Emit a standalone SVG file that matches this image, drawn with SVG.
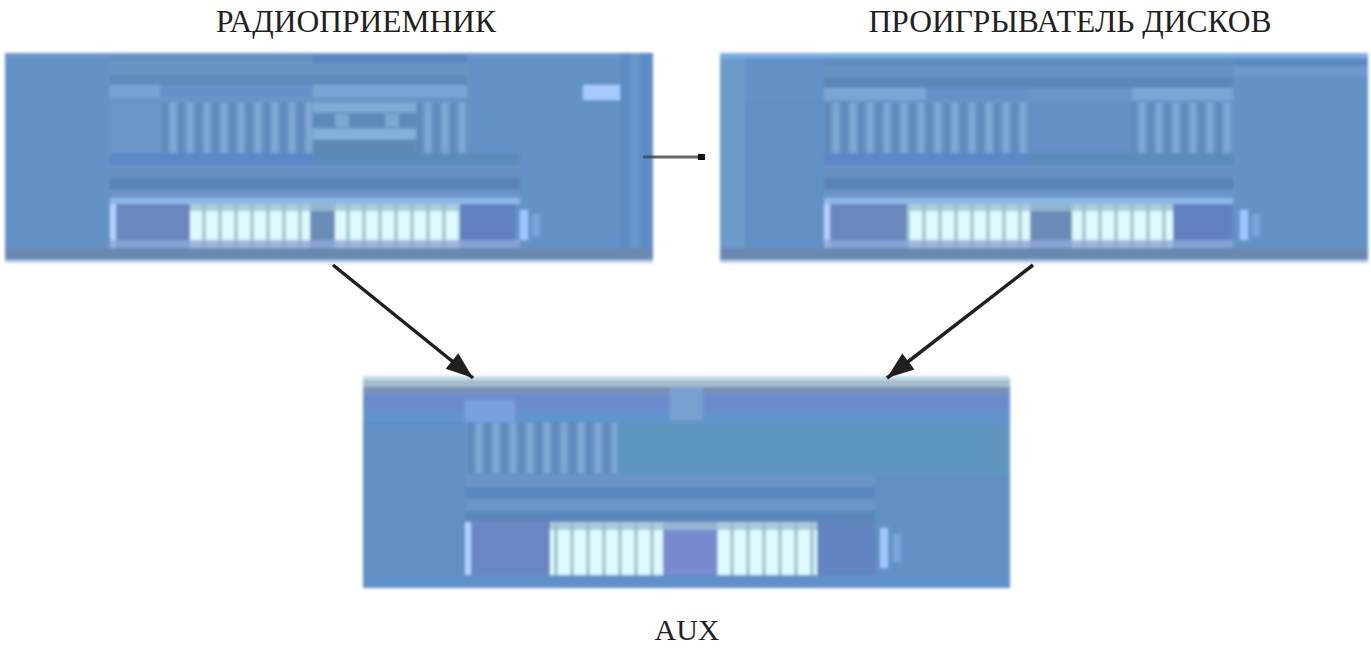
<svg xmlns="http://www.w3.org/2000/svg" width="1371" height="648" viewBox="0 0 1371 648">
<style>
.lbl{font-family:"Liberation Serif","Times New Roman",serif;font-size:31.5px;fill:#231f20;text-anchor:middle}
.conn{stroke:#231f20;stroke-width:3.5;fill:none}
</style>
<defs>
<marker id="ah" viewBox="0 0 10 10" refX="10" refY="5" markerWidth="10" markerHeight="10" markerUnits="userSpaceOnUse" orient="auto" overflow="visible">
<path d="M-17,-5 L10,5 L-17,15 Z" fill="#231f20" />
</marker>
<pattern id="txt" width="17" height="600" patternUnits="userSpaceOnUse">
<rect width="17" height="600" fill="#6a94c4"/>
<rect x="0" width="6" height="600" fill="#80a8d4"/>
<rect x="9" width="5" height="600" fill="#5e88b9"/>
</pattern>
<pattern id="wht" width="16" height="600" patternUnits="userSpaceOnUse">
<rect width="16" height="600" fill="#e0f9ff"/>
<rect x="10" width="4" height="600" fill="#a2c8cf"/>
</pattern>
<filter id="soft" x="-5%" y="-5%" width="110%" height="110%"><feGaussianBlur stdDeviation="1.8"/></filter>
</defs>

<g id="label-radio"><text class="lbl" x="356" y="32">РАДИОПРИЕМНИК</text></g>
<g id="label-disc"><text class="lbl" x="1070" y="32">ПРОИГРЫВАТЕЛЬ ДИСКОВ</text></g>
<g id="label-aux"><text class="lbl" x="687" y="640" style="font-size:30px">AUX</text></g>

<g id="screen-radio" filter="url(#soft)">
<rect x="5" y="53" width="648" height="210" fill="#6393c6"/>
<rect x="5" y="53" width="648" height="4" fill="#6c98c8"/>
<rect x="110" y="55" width="203" height="8" fill="#6690bd"/>
<rect x="313" y="55" width="154" height="8" fill="#5a84bf"/>
<rect x="110" y="63" width="357" height="12" fill="#6a95c2"/>
<rect x="110" y="75" width="357" height="10" fill="#5f8abb"/>
<rect x="110" y="85" width="50" height="12" fill="#78a4d4"/>
<rect x="160" y="85" width="153" height="12" fill="#6690c8"/>
<rect x="313" y="85" width="154" height="12" fill="#7aa6d6"/>
<rect x="110" y="97" width="357" height="6" fill="#6a94c8"/>
<rect x="110" y="103" width="50" height="50" fill="#6c96c6"/>
<rect x="160" y="103" width="153" height="50" fill="url(#txt)"/>
<rect x="313" y="103" width="103" height="50" fill="#6a94c4"/>
<rect x="313" y="103" width="103" height="9" fill="#80aad6"/>
<rect x="313" y="114" width="103" height="13" fill="#5c89b6"/>
<rect x="335" y="114" width="14" height="13" fill="#7ca8d0"/>
<rect x="385" y="114" width="14" height="13" fill="#7ca8d0"/>
<rect x="313" y="129" width="103" height="10" fill="#84b0da"/>
<rect x="313" y="141" width="103" height="12" fill="#5d88b4"/>
<rect x="416" y="103" width="51" height="50" fill="url(#txt)"/>
<rect x="110" y="153" width="203" height="12" fill="#5b88c8"/>
<rect x="313" y="153" width="207" height="12" fill="#5a8cba"/>
<rect x="110" y="165" width="410" height="13" fill="#6890c0"/>
<rect x="110" y="178" width="410" height="12" fill="#5a82b8"/>
<rect x="110" y="190" width="410" height="8" fill="#6a94c8"/>
<rect x="110" y="198" width="410" height="6" fill="#8cb8e8"/>
<rect x="110" y="204" width="80" height="44" fill="#6c86c0"/>
<rect x="110" y="204" width="6" height="44" fill="#b0d0ff"/>
<rect x="190" y="204" width="120" height="44" fill="url(#wht)"/>
<rect x="310" y="204" width="25" height="44" fill="#6c8cb8"/>
<rect x="335" y="204" width="125" height="44" fill="url(#wht)"/>
<rect x="190" y="204" width="270" height="7" fill="#9cc0d0" opacity="0.8"/>
<rect x="460" y="204" width="55" height="44" fill="#6280c0"/>
<rect x="520" y="210" width="8" height="30" fill="#a0c8ff"/>
<rect x="532" y="214" width="8" height="22" fill="#7ca4e0"/>
<rect x="110" y="240" width="410" height="8" fill="#90a8d8" opacity="0.8"/>
<rect x="5" y="248" width="648" height="12" fill="#6a88b0"/>
<rect x="5" y="260" width="648" height="3" fill="#b8d4f0"/>
<rect x="583" y="85" width="37" height="15" fill="#a6caff"/>
<rect x="620" y="53" width="33" height="195" fill="#5c8cc4"/>
<rect x="630" y="53" width="10" height="195" fill="#6898c8"/>
</g>

<g id="screen-disc" filter="url(#soft)">
<rect x="720" y="53" width="648" height="210" fill="#6393c6"/>
<rect x="720" y="53" width="648" height="5" fill="#7aaee0"/>
<rect x="720" y="58" width="25" height="190" fill="#6c9ccc"/>
<rect x="745" y="100" width="79" height="148" fill="#6090c4"/>
<rect x="824" y="58" width="409" height="8" fill="#5f8cbd"/>
<rect x="824" y="66" width="409" height="12" fill="#6890c0"/>
<rect x="824" y="78" width="409" height="10" fill="#5b86ba"/>
<rect x="824" y="88" width="102" height="12" fill="#7aa6d6"/>
<rect x="926" y="88" width="103" height="12" fill="#6690c8"/>
<rect x="1029" y="88" width="103" height="12" fill="#6a94c8"/>
<rect x="1132" y="88" width="101" height="12" fill="#7aa6d6"/>
<rect x="1233" y="58" width="135" height="8" fill="#5a88c0"/>
<rect x="1233" y="66" width="135" height="10" fill="#6c9ad0"/>
<rect x="824" y="100" width="409" height="3" fill="#6a94c8"/>
<rect x="824" y="103" width="154" height="50" fill="url(#txt)"/>
<rect x="978" y="103" width="51" height="50" fill="url(#txt)"/>
<rect x="1029" y="103" width="103" height="50" fill="#6690c6"/>
<rect x="1132" y="103" width="101" height="50" fill="url(#txt)"/>
<rect x="824" y="153" width="206" height="12" fill="#5b88c8"/>
<rect x="1030" y="153" width="203" height="12" fill="#5a8cba"/>
<rect x="824" y="165" width="409" height="13" fill="#6890c0"/>
<rect x="824" y="178" width="409" height="12" fill="#5a82b8"/>
<rect x="824" y="190" width="409" height="8" fill="#6a94c8"/>
<rect x="824" y="198" width="409" height="6" fill="#8cb8e8"/>
<rect x="824" y="204" width="83" height="44" fill="#6c86c0"/>
<rect x="824" y="204" width="6" height="44" fill="#b0d0ff"/>
<rect x="907" y="204" width="123" height="44" fill="url(#wht)"/>
<rect x="1030" y="204" width="42" height="44" fill="#6c8cb8"/>
<rect x="1072" y="204" width="101" height="44" fill="url(#wht)"/>
<rect x="907" y="204" width="266" height="7" fill="#9cc0d0" opacity="0.8"/>
<rect x="1173" y="204" width="60" height="44" fill="#6280c0"/>
<rect x="1240" y="210" width="8" height="30" fill="#a0c8ff"/>
<rect x="1252" y="214" width="8" height="22" fill="#7ca4e0"/>
<rect x="824" y="240" width="409" height="8" fill="#90a8d8" opacity="0.8"/>
<rect x="720" y="248" width="648" height="12" fill="#6a88b0"/>
<rect x="720" y="260" width="648" height="3" fill="#b8d4f0"/>
</g>

<g id="screen-aux" filter="url(#soft)">
<rect x="363" y="378" width="647" height="210" fill="#6090c4"/>
<rect x="363" y="376" width="647" height="4" fill="#c0e0ec"/>
<rect x="363" y="380" width="647" height="7" fill="#a6bcc8"/>
<rect x="363" y="387" width="647" height="8" fill="#7890b8"/>
<rect x="363" y="395" width="647" height="15" fill="#6a8ccc"/>
<rect x="363" y="410" width="647" height="12" fill="#6094cc"/>
<rect x="670" y="387" width="33" height="33" fill="#7aa0d0"/>
<rect x="465" y="400" width="50" height="22" fill="#7aa0e0"/>
<rect x="617" y="422" width="393" height="53" fill="#5f96c0"/>
<rect x="465" y="423" width="152" height="50" fill="url(#txt)"/>
<rect x="465" y="475" width="410" height="12" fill="#6a94c8"/>
<rect x="465" y="487" width="410" height="12" fill="#5a88c0"/>
<rect x="465" y="499" width="410" height="12" fill="#6896c8"/>
<rect x="465" y="511" width="410" height="11" fill="#5a86bc"/>
<rect x="465" y="522" width="85" height="53" fill="#6a86c4"/>
<rect x="465" y="522" width="6" height="53" fill="#b0d0ff"/>
<rect x="550" y="522" width="113" height="53" fill="url(#wht)"/>
<rect x="663" y="522" width="54" height="53" fill="#7a8ad0"/>
<rect x="717" y="522" width="100" height="53" fill="url(#wht)"/>
<rect x="550" y="522" width="267" height="8" fill="#9cc0d0" opacity="0.8"/>
<rect x="817" y="522" width="58" height="53" fill="#6484c0"/>
<rect x="880" y="528" width="8" height="40" fill="#a0c8ff"/>
<rect x="893" y="534" width="8" height="28" fill="#7ca4e0"/>
<rect x="363" y="575" width="647" height="13" fill="#6090c8"/>
</g>

<g id="connectors">
<line class="conn" x1="333" y1="265" x2="473" y2="378" marker-end="url(#ah)"/>
<line class="conn" x1="1033" y1="265" x2="887" y2="378" marker-end="url(#ah)"/>
<line x1="643" y1="157" x2="704" y2="157" stroke="#4a4a4a" stroke-width="3" opacity="0.85"/>
<rect x="698" y="154" width="7" height="6" fill="#111"/>
</g>
</svg>
